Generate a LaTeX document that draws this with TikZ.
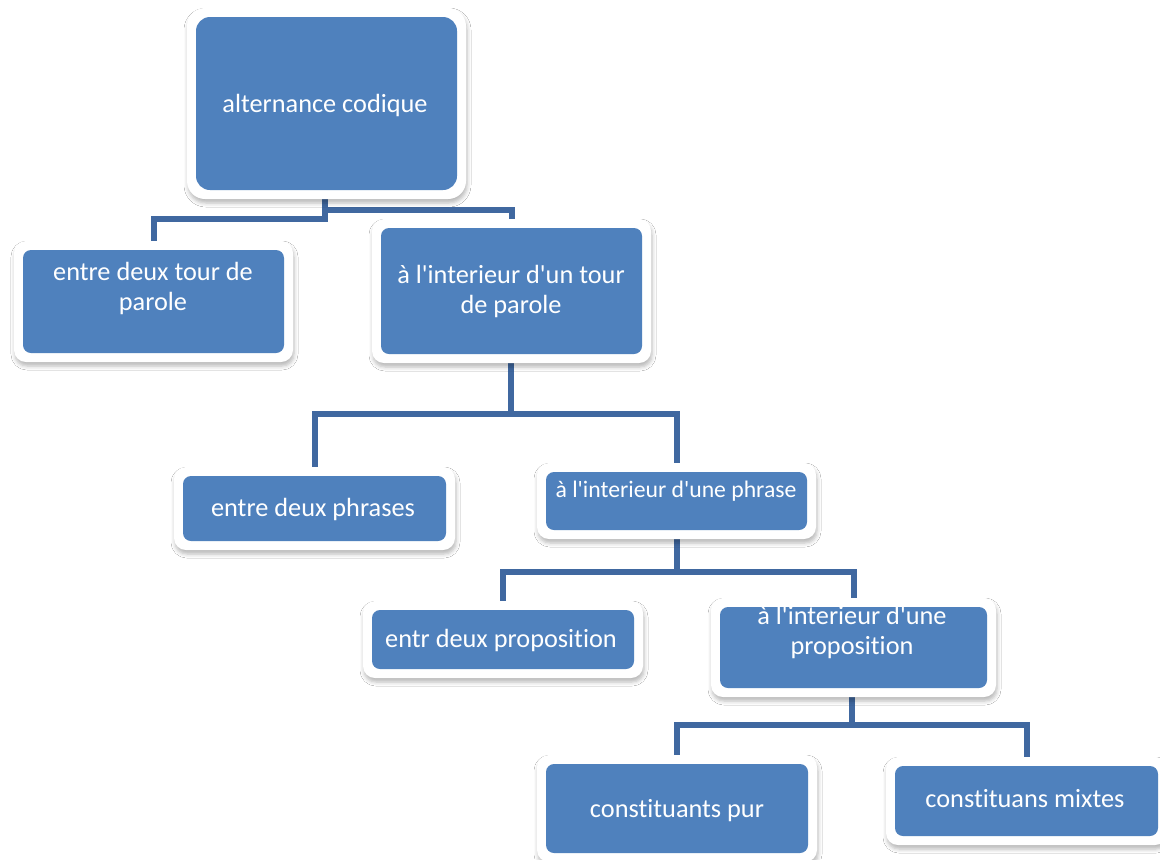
\documentclass[tikz,border=0pt]{standalone}
\usepackage{fontspec}
\setmainfont{Carlito}[Ligatures={TeXOff,NoCommon}]
\usetikzlibrary{fit,backgrounds,shadows.blur}
\definecolor{boxblue}{RGB}{79,129,189}
\definecolor{linkblue}{RGB}{64,104,160}
\tikzset{
  whiteframe/.style={fill=white, rounded corners=6pt, inner sep=4.5pt,
    blur shadow={shadow xshift=0.5pt, shadow yshift=-2pt, shadow blur radius=2pt, shadow opacity=28}},
  panel/.style={fill=boxblue, rounded corners=4pt, inner sep=0pt},
  boxtext/.style={text=white, align=center, font=\fontsize{13.15}{15}\selectfont, anchor=base, inner sep=0pt},
  conn/.style={draw=linkblue, line width=3pt, line join=miter}
}
\newcommand\treebox[5]{%
  \node[whiteframe, fit={(#2,#3)(#4,#5)}] (#1w) {};
  \node[panel, fit={(#2,#3)(#4,#5)}] (#1) {};}
\begin{document}
\begin{tikzpicture}[x=0.5pt,y=-0.5pt]
\useasboundingbox (0,0) rectangle (1160,859);

% boxes
\node[whiteframe, rounded corners=9pt, fit={(196,17)(457,190)}] (Aw) {};
\node[panel, rounded corners=7pt, fit={(196,17)(457,190)}] (A) {};
\treebox{B}{23}{250}{284}{353}
\treebox{C}{381}{228}{642}{354}
\treebox{D}{183}{476}{446}{541}
\treebox{E}{546}{472}{807}{530}
\treebox{F}{372}{610}{634}{669}
\treebox{G}{720}{607}{987}{688}
\treebox{H}{546}{764}{808}{853}
\treebox{I}{895}{766}{1158}{836}

% texts (a multi-line text sits on the baseline of its last line)
\node[boxtext] (tA) at (325,112) {alternance codique};
\node[boxtext] (tB) at (153,310) {entre deux tour de\\parole};
\node[boxtext] (tC) at (511,313) {à l'interieur d'un tour\\de parole};
\node[boxtext] (tD) at (313,516) {entre deux phrases};
\node[boxtext, font=\fontsize{11.85}{14}\selectfont] (tE) at (676,497) {à l'interieur d'une phrase};
\node[boxtext] (tF) at (501,647) {entr deux proposition};
\node[boxtext] (tG) at (852,654) {à l'interieur d'une\\proposition};
\node[boxtext] (tH) at (677,817) {constituants pur};
\node[boxtext] (tI) at (1025,807) {constituans mixtes};

% junction points of the tree
\coordinate (a1) at (325,210);
\coordinate (a2) at (325,219);
\coordinate (c1) at (511,414);
\coordinate (e1) at (677,572);
\coordinate (g1) at (852,725);

\begin{scope}[on background layer]
  \fill[white] (0,0) rectangle (1160,859);
  \draw[conn] (A.south -| a1) -- (a2) -- (a2 -| B.north) -- (B.north);
  \draw[conn] (a1) -- (a1 -| C.north) -- (C.north);
  \draw[conn] (C.south -| c1) -- (c1) -- (c1 -| D.north) -- (D.north);
  \draw[conn] (c1) -- (c1 -| E.north) -- (E.north);
  \draw[conn] (E.south -| e1) -- (e1) -- (e1 -| F.north) -- (F.north);
  \draw[conn] (e1) -- (e1 -| G.north) -- (G.north);
  \draw[conn] (G.south -| g1) -- (g1) -- (g1 -| H.north) -- (H.north);
  \draw[conn] (g1) -- (g1 -| I.north) -- (I.north);
\end{scope}
\end{tikzpicture}
\end{document}
